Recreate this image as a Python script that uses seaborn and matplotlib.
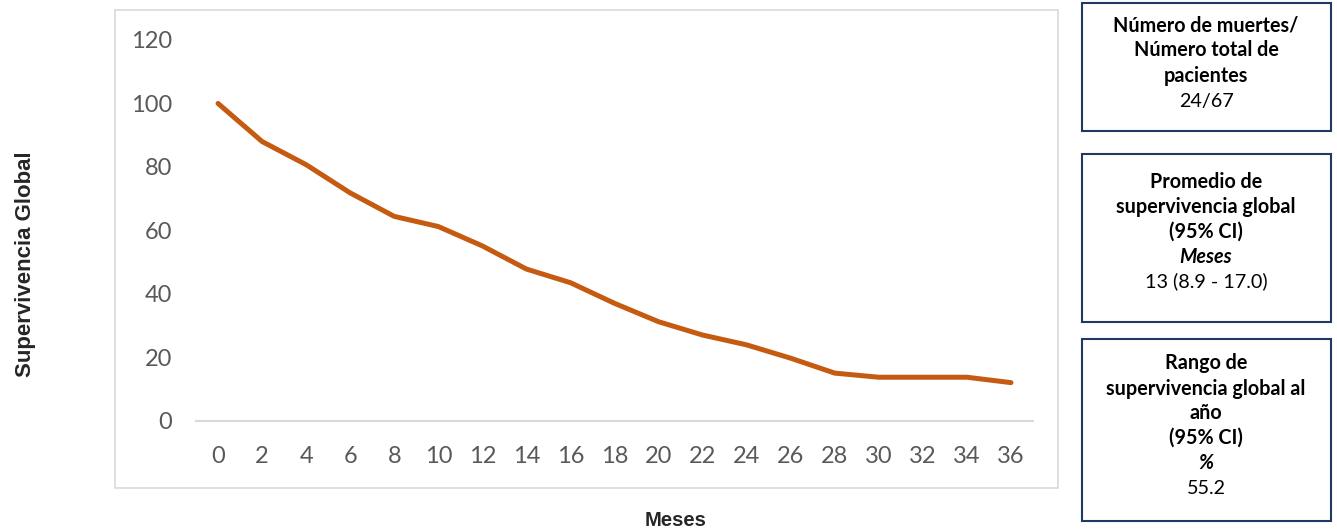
import matplotlib
matplotlib.use("Agg")
import matplotlib.pyplot as plt
import seaborn as sns
import pandas as pd
from matplotlib.patches import Rectangle

months = [0, 2, 4, 6, 8, 10, 12, 14, 16, 18, 20, 22, 24, 26, 28, 30, 32, 34, 36]
survival = [100, 88.0, 80.7, 71.8, 64.4, 61.2, 55.1, 47.8, 43.5, 37.0, 31.2,
            27.0, 23.9, 19.7, 15.0, 13.7, 13.7, 13.7, 12.0]
y_ticks = [0, 20, 40, 60, 80, 100, 120]

box1_lines = [("Número de muertes/", "bold"), ("Número total de", "bold"),
              ("pacientes", "bold"), ("24/67", "normal")]
box2_lines = [("Promedio de", "bold"), ("supervivencia global", "bold"),
              ("(95% CI)", "bold"), ("Meses", "bolditalic"), ("13 (8.9 - 17.0)", "normal")]
box3_lines = [("Rango de", "bold"), ("supervivencia global al", "bold"), ("año", "bold"),
              ("(95% CI)", "bold"), ("%", "bolditalic"), ("55.2", "normal")]

sns.set_theme(style="white")
plt.rcParams['font.family'] = ['Lato', 'DejaVu Sans']

W, H = 1337, 532
fig = plt.figure(figsize=(W / 100, H / 100), dpi=100)

def fx(px):
    return px / W

def fy(py):
    return 1 - py / H

# outer chart border
fig.patches.append(Rectangle((fx(115), fy(488)), fx(1058) - fx(115), fy(10) - fy(488),
                             transform=fig.transFigure, fill=False,
                             edgecolor="#D9D9D9", linewidth=1.2))

ax = fig.add_axes([fx(196), fy(420.7), fx(1033) - fx(196), fy(40) - fy(420.7)])
df = pd.DataFrame({"Meses": months, "Supervivencia": survival})
sns.lineplot(data=df, x="Meses", y="Supervivencia", ax=ax, color="#C55A11",
             linewidth=3.6, solid_capstyle="round")
ax.set_xlim(-1, 37)
ax.set_ylim(0, 120)
ax.set_xticks(months)
ax.set_yticks(y_ticks)
ax.tick_params(axis="both", length=0, labelsize=17, labelcolor="#595959")
ax.tick_params(axis="x", pad=18)
ax.tick_params(axis="y", pad=17)
for s in ["top", "right", "left"]:
    ax.spines[s].set_visible(False)
ax.spines["bottom"].set_color("#D9D9D9")
ax.spines["bottom"].set_linewidth(1.5)
ax.set_xlabel("")
ax.set_ylabel("")
ax.patch.set_alpha(0)

fig.text(fx(26), fy(264), "Supervivencia Global", rotation=90, ha="center", va="center",
         fontsize=16, fontweight="bold", family=["Liberation Sans", "DejaVu Sans"])
fig.text(fx(676), fy(521), "Meses", ha="center", va="center",
         fontsize=14.6, fontweight="bold", family=["Liberation Sans", "DejaVu Sans"])

def draw_box(top, bottom, lines, ys):
    fig.patches.append(Rectangle((fx(1082), fy(bottom)), fx(1331) - fx(1082), fy(top) - fy(bottom),
                                 transform=fig.transFigure, fill=False,
                                 edgecolor="#1F3864", linewidth=1.5))
    for (txt, style), y in zip(lines, ys):
        weight = "bold" if "bold" in style else "normal"
        st = "italic" if "italic" in style else "normal"
        fig.text(fx(1206), fy(y), txt, ha="center", va="center", fontsize=14.2,
                 fontweight=weight, fontstyle=st, color="black")

draw_box(3, 131, box1_lines, [25, 50, 76, 101.5])
draw_box(154, 322, box2_lines, [181.7, 206.7, 231.7, 256.7, 281.7])
draw_box(339, 521, box3_lines, [363, 389, 413, 438, 463, 488])

fig.savefig("out.png", dpi=100)
